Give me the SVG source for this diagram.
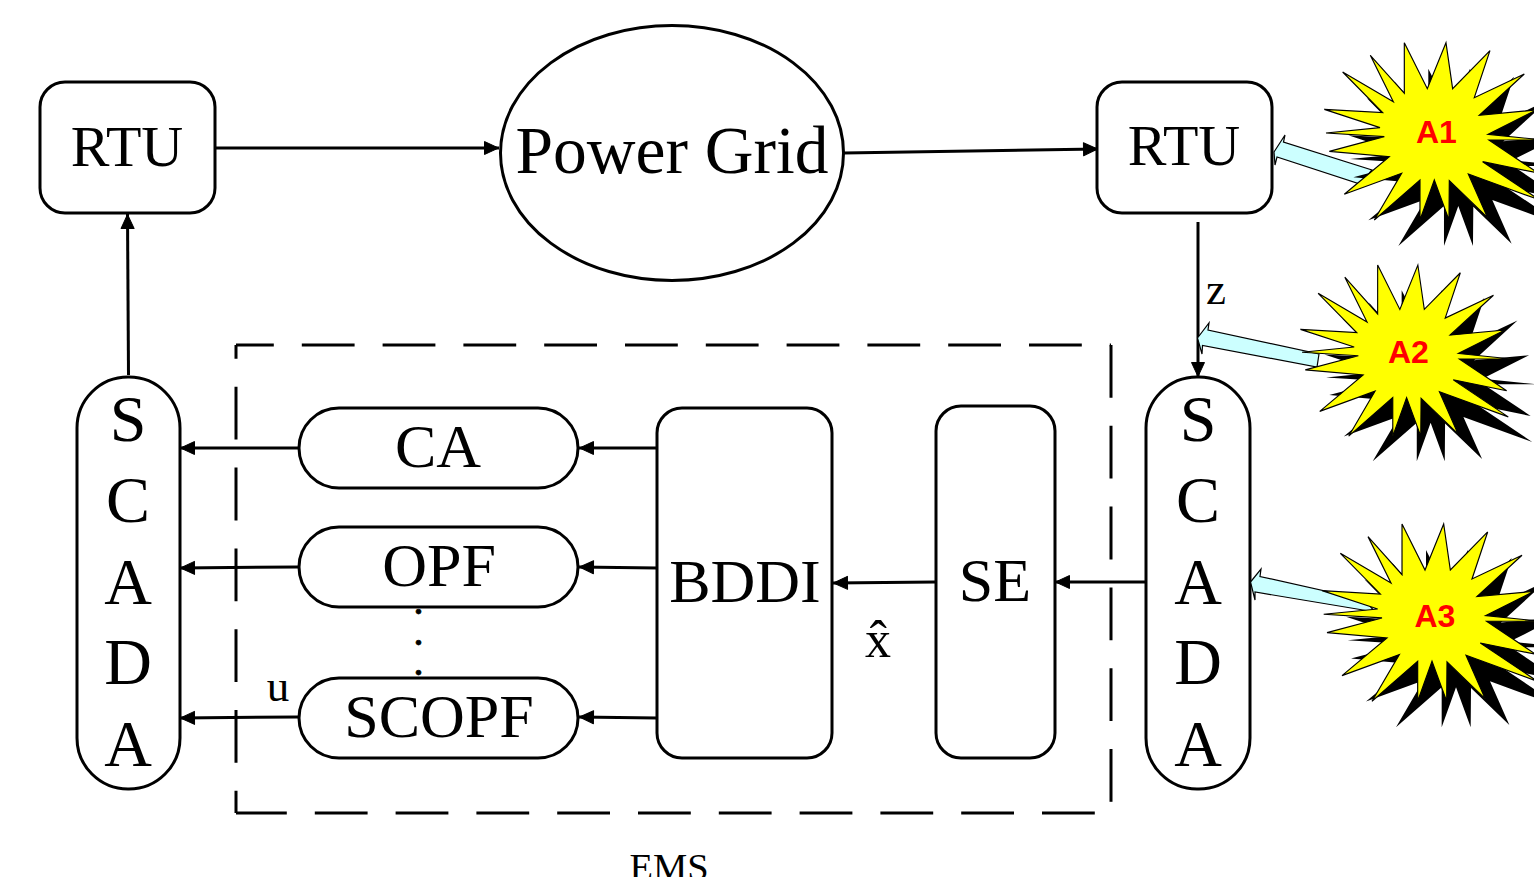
<svg xmlns="http://www.w3.org/2000/svg" xmlns:xlink="http://www.w3.org/1999/xlink" width="1534" height="877" viewBox="0 0 1534 877">
<style>
.box{fill:#fff;stroke:#000;stroke-width:3}
.t{font-family:"Liberation Serif","Times New Roman",serif;fill:#000;text-anchor:middle}
.f62{font-size:62px}
.f66{font-size:66px}
.dot{font-size:30px;font-weight:bold;stroke:#000;stroke-width:.8}
.a{font-family:"Liberation Sans",Arial,sans-serif;font-weight:bold;font-size:32px;fill:#f00}
.c{fill:none;stroke:#000;stroke-width:3;marker-end:url(#ah)}
.d{fill:none;stroke:#000;stroke-width:3;stroke-dasharray:52.800 28}
.hit{fill:#ccffff;stroke:#000;stroke-width:1.2}
</style>
<defs>
<marker id="ah" markerUnits="userSpaceOnUse" markerWidth="17" markerHeight="16" refX="15.500" refY="8" orient="auto"><path d="M1 1.500L15 8L1 14.500Z" fill="#000" stroke="#000" stroke-width="1" stroke-linejoin="round"/></marker>
<polygon id="star" points="643,38 712,176 768,38 788,176 900,62 853,203 1003,132 868,256 1039,240 894,313 1060,330 897,330 1044,429 878,395 1049,510 835,432 893,563 778,452 777,570 733,450 690,570 690,450 553,570 635,430 463,493 598,380 418,364 583,320 408,309 570,293 403,238 578,248 458,126 610,215 541,76 643,190"/>
</defs>
<rect width="1534" height="877" fill="#fff"/>

<g id="ems-boundary">
<path class="d" d="M236 345H1111" stroke-dashoffset="15"/>
<path class="d" d="M1111 345V813"/>
<path class="d" d="M236 813H1111" stroke-dashoffset="2"/>
<path class="d" d="M236 345V813" stroke-dashoffset="39"/>
<text class="t" x="669" y="880" font-size="38.500">EMS</text>
</g>

<g id="rtu-left"><rect class="box" x="40" y="82" width="175" height="131" rx="25"/><text class="t" x="127" y="166" font-size="58">RTU</text></g>
<g id="power-grid"><ellipse class="box" cx="672" cy="153" rx="171.500" ry="127.500"/><text class="t" x="672" y="173" font-size="67.500">Power Grid</text></g>
<g id="rtu-right"><rect class="box" x="1097" y="82" width="175" height="131" rx="25"/><text class="t" x="1184" y="165" font-size="58">RTU</text></g>

<g id="scada-left"><rect class="box" x="77" y="377" width="103" height="412" rx="51"/>
<text class="t f66" x="128" y="441">S</text><text class="t f66" x="128" y="522">C</text><text class="t f66" x="128" y="604">A</text><text class="t f66" x="128" y="684">D</text><text class="t f66" x="128" y="766">A</text></g>
<g id="scada-right"><rect class="box" x="1146" y="377" width="104" height="412" rx="51"/>
<text class="t f66" x="1198" y="441">S</text><text class="t f66" x="1198" y="522">C</text><text class="t f66" x="1198" y="604">A</text><text class="t f66" x="1198" y="684">D</text><text class="t f66" x="1198" y="766">A</text></g>

<g id="ca"><rect class="box" x="299" y="408" width="279" height="80" rx="40"/><text class="t f62" x="438" y="467">CA</text></g>
<g id="opf"><rect class="box" x="299" y="527" width="279" height="80" rx="40"/><text class="t f62" x="439" y="586">OPF</text></g>
<g id="scopf"><rect class="box" x="299" y="678" width="279" height="80" rx="40"/><text class="t f62" x="439" y="737">SCOPF</text></g>
<g id="bddi"><rect class="box" x="657" y="408" width="175" height="350" rx="25"/><text class="t f62" x="745" y="602">BDDI</text></g>
<g id="se"><rect class="box" x="936" y="406" width="119" height="352" rx="25"/><text class="t f62" x="995" y="601">SE</text></g>

<g id="connectors">
<path class="c" d="M216 148L499 148"/>
<path class="c" d="M844 153L1098 149"/>
<path class="c" d="M1198 222L1198 377"/>
<path class="c" d="M128.500 375L127.500 214"/>
<path class="c" d="M298 448L180 448"/>
<path class="c" d="M657 448L579 448"/>
<path class="c" d="M298 567L180 568"/>
<path class="c" d="M657 568L579 567"/>
<path class="c" d="M298 717L180 718"/>
<path class="c" d="M657 718L579 717"/>
<path class="c" d="M936 582L833 583"/>
<path class="c" d="M1146 582L1055 582"/>
</g>

<text class="t" x="1216" y="304" font-size="45">z</text>
<text class="t" x="278" y="701" font-size="45">u</text>
<text class="t" x="878" y="657" font-size="52">x̂</text>
<text class="t dot" x="418.500" y="614">.</text>
<text class="t dot" x="418.500" y="644.500">.</text>
<text class="t dot" x="418.500" y="675">.</text>

<g id="attack-a1">
<polygon class="hit" points="1274,152 1285,135 1283.500,142 1372,170 1360,184 1277,157 1275,165"/>
<use xlink:href="#star" href="#star" transform="translate(1214 56) scale(.3333)" fill="#000"/>
<use xlink:href="#star" href="#star" transform="translate(1190 30) scale(.3333)" fill="#ff0" stroke="#000" stroke-width="3.500"/>
<text class="a" x="1416" y="143">A1</text>
</g>
<g id="attack-a2">
<polygon class="hit" points="1197.500,338 1209,323 1208,330 1319,354 1317,367 1202.500,345.500 1202,354"/>
<use xlink:href="#star" href="#star" transform="translate(1194.800 278) scale(.3217)" fill="#000"/>
<use xlink:href="#star" href="#star" transform="translate(1170.800 252.800) scale(.3217)" fill="#ff0" stroke="#000" stroke-width="3.500"/>
<text class="a" x="1388" y="363">A2</text>
</g>
<g id="attack-a3">
<polygon class="hit" points="1250.500,582 1261,569 1260,576.500 1365,600 1375,612 1255,592 1255,600"/>
<use xlink:href="#star" href="#star" transform="translate(1211.700 537.300) scale(.3333)" fill="#000"/>
<use xlink:href="#star" href="#star" transform="translate(1187.700 511.300) scale(.3333)" fill="#ff0" stroke="#000" stroke-width="3.500"/>
<text class="a" x="1414.500" y="627">A3</text>
</g>
</svg>
